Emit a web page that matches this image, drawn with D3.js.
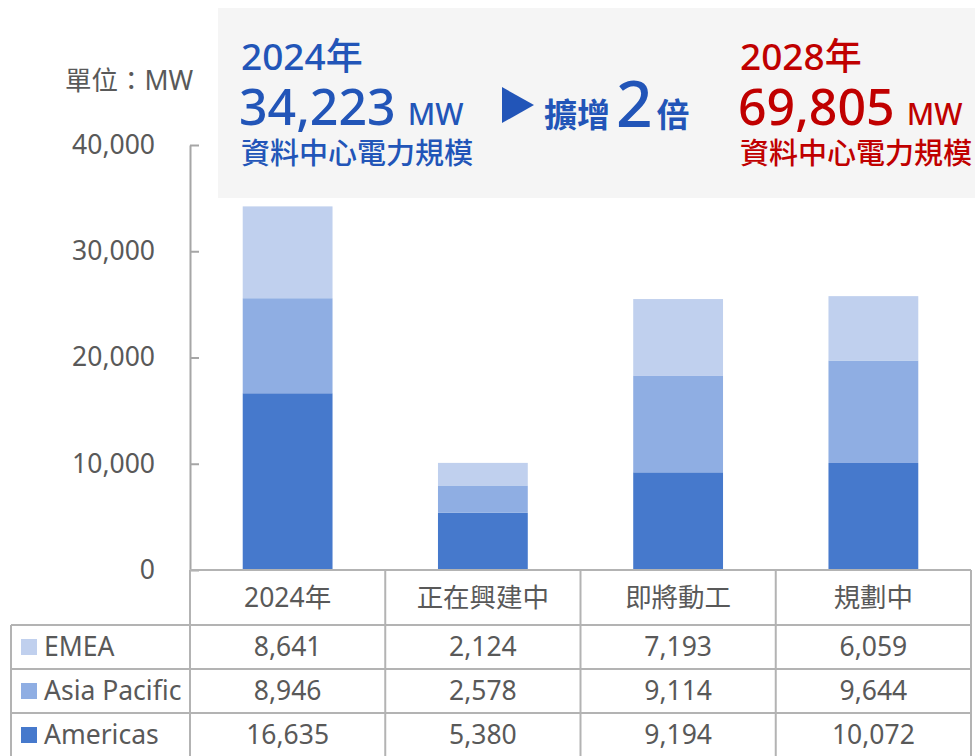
<!DOCTYPE html>
<html>
<head>
<meta charset="utf-8">
<script src="https://cdn.jsdelivr.net/npm/d3@7"></script>
<style>
  body { margin: 0; background: #fff; }
  svg { display: block; font-family: "Noto Sans", "Noto Sans CJK TC", sans-serif; }
</style>
</head>
<body>
<svg id="canvas"></svg>
<script>
let categories = ['2024年', '正在興建中', '即將動工', '規劃中'];
let seriesNames = ['Americas', 'Asia Pacific', 'EMEA'];
let americas = [16635, 5380, 9194, 10072];
let asiaPacific = [8946, 2578, 9114, 9644];
let emea = [8641, 2124, 7193, 6059];
let yTicks = [0, 10000, 20000, 30000, 40000];
let colors = ['#4679cc', '#8faee3', '#c0d0ee'];

let width = 975;
let height = 756;
let plotLeft = 190;
let plotRight = 971;
let plotTop = 145;
let plotBottom = 570;
let rowTop = 625;
let rowH = 44;
let textColor = '#595959';
let gridColor = '#b3b3b3';
let fs = 26.5;

let canvas = d3.select('#canvas').attr('width', width).attr('height', height);

let rows = categories.map((c, i) => ({ cat: c, Americas: americas[i], 'Asia Pacific': asiaPacific[i], EMEA: emea[i] }));
let stacked = d3.stack().keys(seriesNames)(rows);

let xScale = d3.scaleBand().domain(categories).range([plotLeft, plotRight]).paddingInner(0.54).paddingOuter(0.27);
let colScale = d3.scaleBand().domain(categories).range([plotLeft, plotRight]);
let yScale = d3.scaleLinear().domain([0, 40000]).range([plotBottom, plotTop]);

// callout box
canvas.append('rect').attr('x', 218).attr('y', 8).attr('width', 757).attr('height', 190).attr('fill', '#f5f5f5');

let blue = '#2255b8';
let red = '#c00000';
let callout = (x, color, year, value) => {
  canvas.append('text').attr('x', x).attr('y', 70).attr('fill', color).attr('font-size', 37).attr('font-weight', 500).text(year);
  let t = canvas.append('text').attr('x', x - 2).attr('y', 125).attr('fill', color).attr('font-weight', 500);
  t.append('tspan').attr('font-size', 50).text(value);
  t.append('tspan').attr('font-size', 30).attr('dx', 12).text('MW');
  canvas.append('text').attr('x', x).attr('y', 164).attr('fill', color).attr('font-size', 29).attr('font-weight', 500).text('資料中心電力規模');
};
callout(241, blue, '2024年', '34,223');
callout(740, red, '2028年', '69,805');

canvas.append('path').attr('d', 'M502,87 L534,105 L502,123 Z').attr('fill', blue);
let mid = canvas.append('text').attr('x', 544).attr('y', 127).attr('fill', blue);
mid.append('tspan').attr('font-size', 33).attr('font-weight', 'bold').text('擴增');
mid.append('tspan').attr('font-size', 64).attr('font-weight', 500).attr('dx', 6).text('2');
mid.append('tspan').attr('font-size', 33).attr('font-weight', 'bold').attr('dx', 4).text('倍');

canvas.append('text').attr('x', 65).attr('y', 90).attr('fill', textColor).attr('font-size', fs).text('單位：MW');

// bars
canvas.append('g').selectAll('g')
  .data(stacked)
  .enter()
  .append('g')
  .attr('fill', (d, i) => colors[i])
  .selectAll('rect')
  .data((d) => d)
  .enter()
  .append('rect')
  .attr('x', (d) => xScale(d.data.cat))
  .attr('width', xScale.bandwidth())
  .attr('y', (d) => yScale(d[1]))
  .attr('height', (d) => yScale(d[0]) - yScale(d[1]));

// y axis
let yAxis = d3.axisLeft(yScale).tickValues(yTicks).tickFormat(d3.format(',')).tickSize(-9).tickSizeOuter(0).tickPadding(35);
let yG = canvas.append('g').attr('transform', 'translate(' + plotLeft + ',0)').call(yAxis);
yG.selectAll('line, path').attr('stroke', '#a6a6a6').attr('stroke-width', 2);
yG.selectAll('text').attr('fill', textColor).attr('font-size', fs).attr('font-family', '"Noto Sans", sans-serif');

// data table
let table = canvas.append('g').attr('stroke', gridColor).attr('stroke-width', 2);
table.append('line').attr('x1', plotLeft).attr('x2', plotRight).attr('y1', plotBottom).attr('y2', plotBottom);
[0, 1, 2].forEach((i) => {
  table.append('line').attr('x1', 11).attr('x2', plotRight).attr('y1', rowTop + rowH * i).attr('y2', rowTop + rowH * i);
});
table.append('line').attr('x1', 11).attr('x2', 11).attr('y1', rowTop).attr('y2', height);
categories.forEach((c) => {
  table.append('line').attr('x1', colScale(c)).attr('x2', colScale(c)).attr('y1', plotBottom).attr('y2', height);
});
table.append('line').attr('x1', plotRight).attr('x2', plotRight).attr('y1', plotBottom).attr('y2', height);

canvas.append('g').selectAll('text')
  .data(categories)
  .enter()
  .append('text')
  .attr('x', (c) => colScale(c) + colScale.bandwidth() / 2)
  .attr('y', 598)
  .attr('dy', '0.35em')
  .attr('text-anchor', 'middle')
  .attr('fill', textColor)
  .attr('font-size', fs)
  .text((c) => c);

let tableRows = [
  { name: 'EMEA', values: emea, color: colors[2] },
  { name: 'Asia Pacific', values: asiaPacific, color: colors[1] },
  { name: 'Americas', values: americas, color: colors[0] }
];

tableRows.forEach((r, i) => {
  let cy = rowTop + rowH * i + rowH / 2;
  canvas.append('rect').attr('x', 21).attr('y', cy - 8).attr('width', 16).attr('height', 16).attr('fill', r.color);
  canvas.append('text').attr('x', 44).attr('y', cy).attr('dy', '0.35em').attr('fill', textColor).attr('font-size', fs).text(r.name);
  canvas.append('g').selectAll('text')
    .data(r.values)
    .enter()
    .append('text')
    .attr('x', (v, j) => colScale(categories[j]) + colScale.bandwidth() / 2)
    .attr('y', cy)
    .attr('dy', '0.35em')
    .attr('text-anchor', 'middle')
    .attr('fill', textColor)
    .attr('font-size', fs)
    .text((v) => d3.format(',')(v));
});
</script>
</body>
</html>
